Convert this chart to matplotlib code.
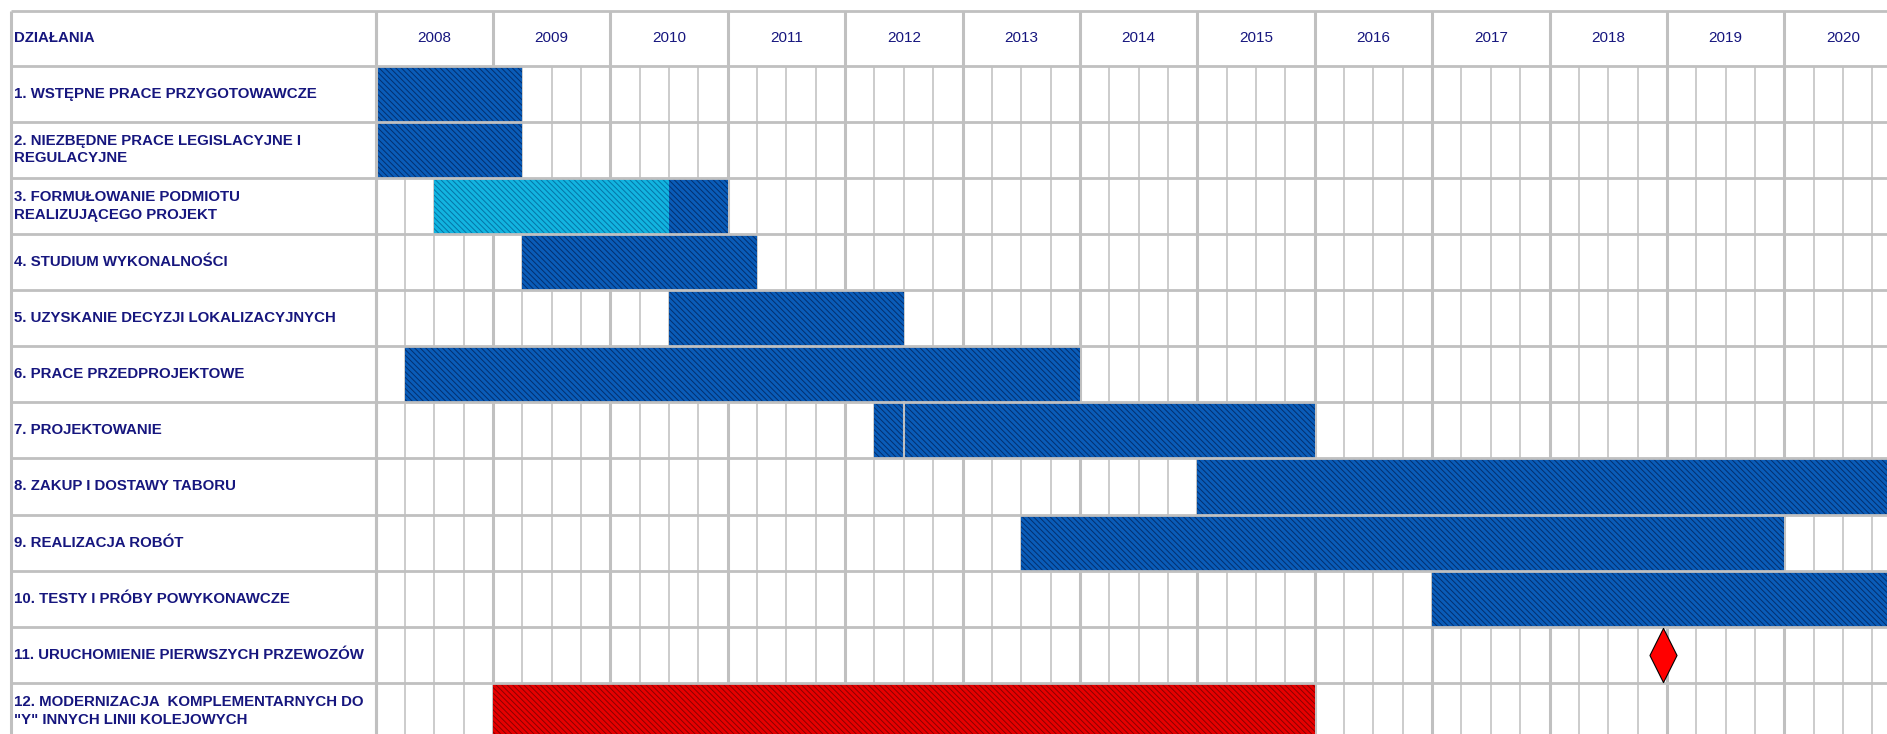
import matplotlib.pyplot as plt
from matplotlib.markers import MarkerStyle

plt.rcParams['font.family'] = ['Liberation Sans', 'DejaVu Sans']
plt.rcParams['hatch.linewidth'] = 0.7

# harmonogram dzialan
header_label = "DZIAŁANIA"
years = list(range(2008, 2021))
tasks = [
    "1. WSTĘPNE PRACE PRZYGOTOWAWCZE",
    "2. NIEZBĘDNE PRACE LEGISLACYJNE I\nREGULACYJNE",
    "3. FORMUŁOWANIE PODMIOTU\nREALIZUJĄCEGO PROJEKT",
    "4. STUDIUM WYKONALNOŚCI",
    "5. UZYSKANIE DECYZJI LOKALIZACYJNYCH",
    "6. PRACE PRZEDPROJEKTOWE",
    "7. PROJEKTOWANIE",
    "8. ZAKUP I DOSTAWY TABORU",
    "9. REALIZACJA ROBÓT",
    "10. TESTY I PRÓBY POWYKONAWCZE",
    "11. URUCHOMIENIE PIERWSZYCH PRZEWOZÓW",
    "12. MODERNIZACJA  KOMPLEMENTARNYCH DO\n\"Y\" INNYCH LINII KOLEJOWYCH",
]

# odcinki (wiersz, poczatek, koniec, rodzaj) - lata jako ulamki, kwartaly = 0.25
bar_rows = [0, 1, 2, 2, 3, 4, 5, 6, 6, 7, 8, 9, 11]
bar_starts = [2008.0, 2008.0, 2008.5, 2010.5, 2009.25, 2010.5, 2008.25,
              2012.25, 2012.5, 2015.0, 2013.5, 2017.0, 2009.0]
bar_ends = [2009.25, 2009.25, 2010.5, 2011.0, 2011.25, 2012.5, 2014.0,
            2012.5, 2016.0, 2021.0, 2020.0, 2021.0, 2016.0]
bar_kinds = ['main', 'main', 'prep', 'main', 'main', 'main', 'main',
             'main', 'main', 'main', 'main', 'main', 'other']

milestone_row = 10
milestone_date = 2018.97

styles = {
    'main': ('#0a5cb8', '#032f6e'),
    'prep': ('#12b4e0', '#0574a6'),
    'other': ('#e60000', '#8a0000'),
}
GRID = '#c0c0c0'
QGRID = '#c8c8c8'
TXT = '#16167e'

# geometria tabeli w pikselach
W, H = 1887, 734
X0_PX, YEAR_PX = 375.5, 117.4
HEAD_PX, ROW_PX = 65.7, 56.1
BORDER_PX = 11

fig = plt.figure(figsize=(W / 100, H / 100), dpi=100)
ax = fig.add_axes([0, 0, 1, 1])
ax.set_xlim(2008 - X0_PX / YEAR_PX, 2008 + (W - X0_PX) / YEAR_PX)
ax.set_ylim((H - HEAD_PX) / ROW_PX, -HEAD_PX / ROW_PX)
ax.set_axis_off()

x_left = 2008 - (X0_PX - BORDER_PX) / YEAR_PX
y_top = -(HEAD_PX - BORDER_PX) / ROW_PX
x_right = ax.get_xlim()[1]
y_bottom = len(tasks) + 1
n_rows = len(tasks)

# linie kwartalne i roczne pod paskami
for yr in years:
    for q in (0.25, 0.5, 0.75):
        ax.plot([yr + q, yr + q], [0, y_bottom], color=QGRID, lw=1.3, zorder=1,
                solid_capstyle='butt')
    ax.plot([yr, yr], [y_top, y_bottom], color=GRID, lw=2.2, zorder=1,
            solid_capstyle='butt')
ax.plot([years[-1] + 1] * 2, [y_top, y_bottom], color=GRID, lw=2.2, zorder=1)

# paski
for r, s, e, k in zip(bar_rows, bar_starts, bar_ends, bar_kinds):
    face, line = styles[k]
    ax.barh(r + 0.5, e - s, left=s, height=1.0, color=face, edgecolor=line,
            hatch='\\\\\\\\\\\\', linewidth=0, zorder=2)

# styk dwoch odcinkow tego samego rodzaju w jednym wierszu
for i in range(1, len(bar_rows)):
    if (bar_rows[i] == bar_rows[i - 1] and bar_kinds[i] == bar_kinds[i - 1]
            and bar_starts[i] == bar_ends[i - 1]):
        ax.plot([bar_starts[i]] * 2, [bar_rows[i], bar_rows[i] + 1],
                color=GRID, lw=1.5, zorder=3)

# kamien milowy
diamond = MarkerStyle([(0, 1), (0.5, 0), (0, -1), (-0.5, 0), (0, 1)])
ax.plot([milestone_date], [milestone_row + 0.5], marker=diamond, markersize=39,
        color='#ff0000', markeredgecolor='black', markeredgewidth=0.8,
        linestyle='none', zorder=4)

# linie poziome tabeli nad paskami
for y in [y_top] + list(range(0, n_rows + 1)):
    ax.plot([x_left, x_right], [y, y], color=GRID, lw=2.0, zorder=3,
            solid_capstyle='butt')
ax.plot([x_left, x_left], [y_top, y_bottom], color=GRID, lw=2.2, zorder=3,
        solid_capstyle='butt')
ax.plot([2008, 2008], [y_top, y_bottom], color=GRID, lw=2.2, zorder=3,
        solid_capstyle='butt')

# naglowek
text_x = 2008 - (X0_PX - 14) / YEAR_PX
ax.text(text_x, y_top / 2, header_label, ha='left', va='center',
        fontsize=10.8, fontweight='bold', color=TXT, zorder=5)
for yr in years:
    ax.text(yr + 0.5, y_top / 2, str(yr), ha='center', va='center',
            fontsize=11, color=TXT, zorder=5)

# nazwy dzialan
for i, name in enumerate(tasks):
    ax.text(text_x, i + 0.5, name, ha='left', va='center', fontsize=10.8,
            fontweight='bold', color=TXT, linespacing=1.3, zorder=5)

fig.savefig('out.png', dpi=100)
